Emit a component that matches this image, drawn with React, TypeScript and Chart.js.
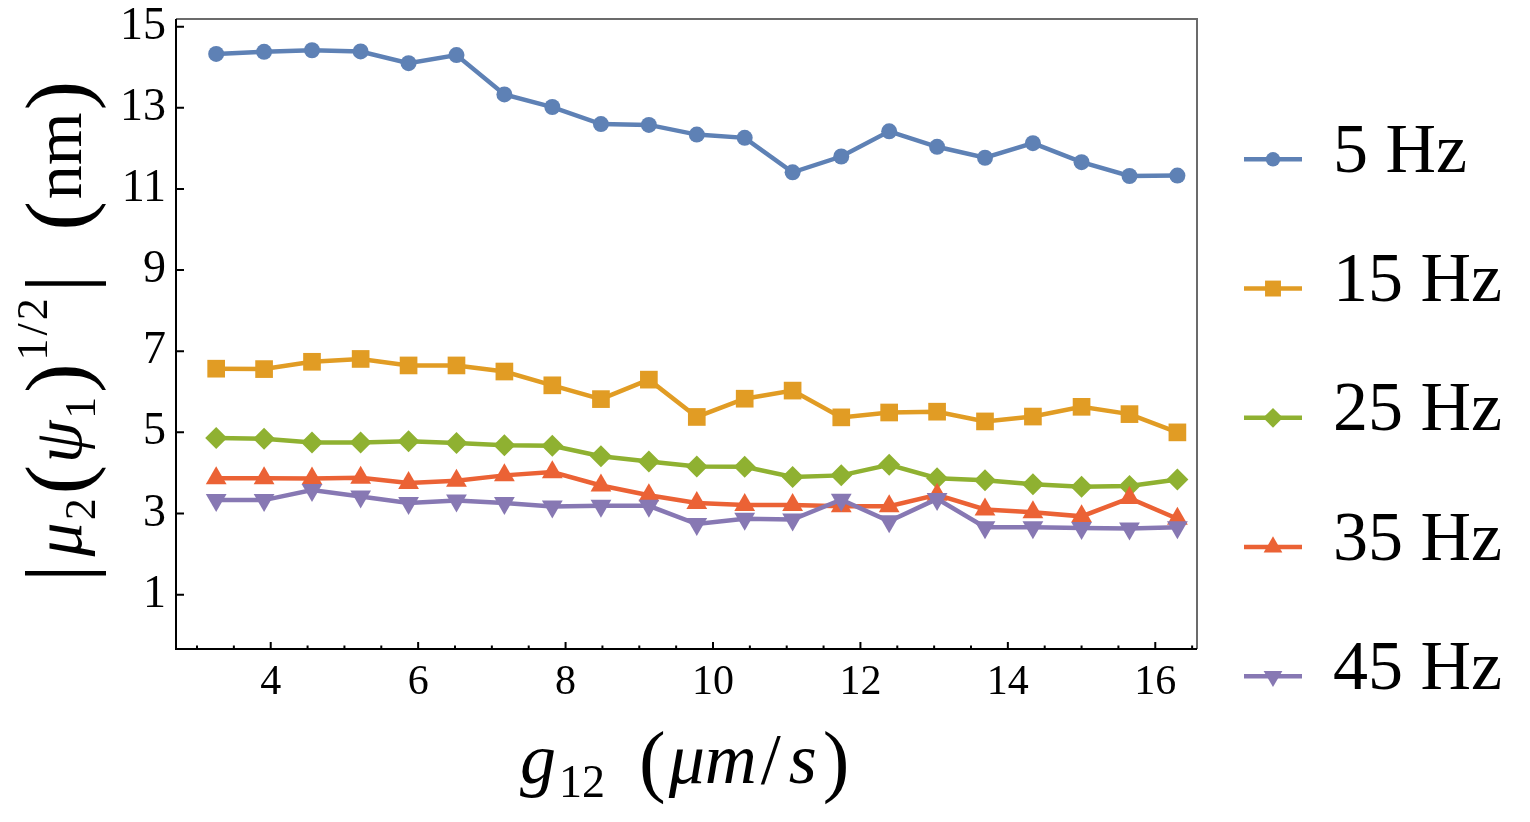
import { useEffect, useRef } from "react";
import { Chart, registerables } from "chart.js";

Chart.register(...registerables);

// x positions: g12 in um/s
const g12 = [3.26, 3.91, 4.56, 5.22, 5.87, 6.52, 7.17, 7.82, 8.48, 9.13, 9.78, 10.43, 11.08, 11.74, 12.39, 13.04, 13.69, 14.34, 15.0, 15.65, 16.3];

// |mu2(psi1)^(1/2)| in nm, one array per drive frequency
const hz5 = [14.33, 14.38, 14.42, 14.39, 14.1, 14.3, 13.33, 13.02, 12.6, 12.58, 12.34, 12.26, 11.41, 11.8, 12.42, 12.04, 11.77, 12.13, 11.66, 11.32, 11.33];
const hz15 = [6.57, 6.56, 6.74, 6.81, 6.65, 6.65, 6.5, 6.16, 5.82, 6.3, 5.38, 5.83, 6.03, 5.37, 5.49, 5.51, 5.27, 5.39, 5.63, 5.45, 5.0];
const hz25 = [4.86, 4.84, 4.75, 4.75, 4.78, 4.74, 4.68, 4.67, 4.41, 4.28, 4.16, 4.15, 3.9, 3.94, 4.2, 3.87, 3.82, 3.72, 3.66, 3.68, 3.84];
const hz35 = [3.87, 3.87, 3.86, 3.88, 3.75, 3.81, 3.94, 4.02, 3.69, 3.45, 3.26, 3.21, 3.21, 3.18, 3.18, 3.46, 3.1, 3.03, 2.93, 3.38, 2.87];
const hz45 = [3.33, 3.33, 3.58, 3.42, 3.26, 3.32, 3.26, 3.17, 3.19, 3.19, 2.74, 2.87, 2.85, 3.34, 2.81, 3.36, 2.66, 2.66, 2.64, 2.63, 2.66];

const seriesLabels = ["5 Hz", "15 Hz", "25 Hz", "35 Hz", "45 Hz"];
const seriesValues = [hz5, hz15, hz25, hz35, hz45];
const seriesColors = ["#5E81B5", "#E19C24", "#8FB131", "#EB6235", "#8778B3"];
const seriesMarkers = ["circle", "rect", "rectRot", "triangle", "triangle"];
const seriesRotation = [0, 0, 0, 0, 180];
const seriesRadius = [8, 12.5, 11, 12, 12];

const xTickLabels = [4, 6, 8, 10, 12, 14, 16];
const yTickLabels = [1, 3, 5, 7, 9, 11, 13, 15];

const SERIF = '"Liberation Serif", "DejaVu Serif", serif';

type Part = { t: string; size: number; italic?: boolean; dy?: number; gap?: number };

function drawParts(ctx: CanvasRenderingContext2D, parts: Part[], x: number, y: number) {
  let cx = x;
  for (const p of parts) {
    cx += p.gap ?? 0;
    ctx.font = `${p.italic ? "italic " : ""}${p.size}px ${SERIF}`;
    ctx.fillText(p.t, cx, y + (p.dy ?? 0));
    cx += ctx.measureText(p.t).width;
  }
}

function drawMarker(ctx: CanvasRenderingContext2D, style: string, rot: number, x: number, y: number, r: number, color: string) {
  ctx.fillStyle = color;
  ctx.beginPath();
  if (style === "circle") {
    ctx.arc(x, y, r, 0, Math.PI * 2);
  } else if (style === "rect") {
    const s = r * Math.SQRT1_2;
    ctx.rect(x - s, y - s, 2 * s, 2 * s);
  } else if (style === "rectRot") {
    ctx.moveTo(x, y - r);
    ctx.lineTo(x + r, y);
    ctx.lineTo(x, y + r);
    ctx.lineTo(x - r, y);
  } else {
    const sgn = rot === 180 ? -1 : 1;
    ctx.moveTo(x, y - sgn * r);
    ctx.lineTo(x + 0.866 * r, y + sgn * 0.5 * r);
    ctx.lineTo(x - 0.866 * r, y + sgn * 0.5 * r);
  }
  ctx.closePath();
  ctx.fill();
}

const yTitle: Part[] = [
  { t: "|", size: 88, dy: 6 },
  { t: "μ", size: 68, italic: true, gap: 8 },
  { t: "2", size: 44, dy: 14, gap: 2 },
  { t: "(", size: 88, dy: 6, gap: 4 },
  { t: "ψ", size: 68, italic: true, gap: 2 },
  { t: "1", size: 44, dy: 14, gap: 2 },
  { t: ")", size: 88, dy: 6, gap: 4 },
  { t: "1", size: 44, dy: -34, gap: 3 },
  { t: "/", size: 44, dy: -34, gap: 3 },
  { t: "2", size: 44, dy: -34, gap: 3 },
  { t: "|", size: 88, dy: 6, gap: 6 },
  { t: "(", size: 88, dy: 6, gap: 44 },
  { t: "nm", size: 68, gap: 2 },
  { t: ")", size: 88, dy: 6, gap: 2 },
];

const xTitle: Part[] = [
  { t: "g", size: 72, italic: true },
  { t: "12", size: 46, dy: 14, gap: 3 },
  { t: "(", size: 80, dy: 4, gap: 34 },
  { t: "μm", size: 72, italic: true, gap: 3 },
  { t: "/", size: 72, gap: 4 },
  { t: "s", size: 72, italic: true, gap: 8 },
  { t: ")", size: 80, dy: 4, gap: 6 },
];

const decorPlugin = {
  id: "decor",
  afterDraw(chart: any) {
    const { ctx, chartArea: a, scales } = chart;
    const xs = scales.x;
    const ys = scales.y;
    ctx.save();

    // frame: gray top/right, black left/bottom
    ctx.lineWidth = 2;
    ctx.strokeStyle = "#6b6b6b";
    ctx.beginPath();
    ctx.moveTo(a.left, a.top);
    ctx.lineTo(a.right, a.top);
    ctx.lineTo(a.right, a.bottom);
    ctx.stroke();
    ctx.strokeStyle = "#000";
    ctx.beginPath();
    ctx.moveTo(a.left, a.top);
    ctx.lineTo(a.left, a.bottom);
    ctx.lineTo(a.right, a.bottom);
    ctx.stroke();

    // inward ticks
    ctx.lineWidth = 2;
    ctx.beginPath();
    for (const v of yTickLabels) {
      const py = ys.getPixelForValue(v);
      ctx.moveTo(a.left, py);
      ctx.lineTo(a.left + 8, py);
    }
    for (let v = Math.ceil(xs.min * 2) / 2; v <= xs.max; v += 0.5) {
      const px = xs.getPixelForValue(v);
      const len = xTickLabels.includes(v) ? 7 : 3.5;
      ctx.moveTo(px, a.bottom);
      ctx.lineTo(px, a.bottom - len);
    }
    ctx.stroke();

    // axis titles
    ctx.fillStyle = "#000";
    ctx.textBaseline = "alphabetic";
    ctx.textAlign = "left";
    drawParts(ctx, xTitle, 520, 783);
    ctx.save();
    ctx.translate(81, 582);
    ctx.rotate(-Math.PI / 2);
    drawParts(ctx, yTitle, 0, 0);
    ctx.restore();

    // legend
    chart.data.datasets.forEach((ds: any, i: number) => {
      const ly = 159.3 + i * 129.25;
      ctx.strokeStyle = ds.borderColor;
      ctx.lineWidth = 4.5;
      ctx.beginPath();
      ctx.moveTo(1244, ly);
      ctx.lineTo(1302, ly);
      ctx.stroke();
      drawMarker(ctx, seriesMarkers[i], seriesRotation[i], 1273, ly, seriesRadius[i] * 0.9, ds.borderColor);
      ctx.fillStyle = "#000";
      ctx.font = `70px ${SERIF}`;
      ctx.fillText(ds.label, 1333, ly + 12.5);
    });

    ctx.restore();
  },
};

export default function App() {
  const canvasRef = useRef<HTMLCanvasElement | null>(null);

  useEffect(() => {
    document.body.style.margin = "0";
    const ctx = canvasRef.current?.getContext("2d");
    if (!ctx) return;

    const chart = new Chart(ctx, {
      type: "line",
      data: {
        datasets: seriesValues.map((vals, i) => ({
          label: seriesLabels[i],
          data: g12.map((x, j) => ({ x, y: vals[j] })),
          borderColor: seriesColors[i],
          backgroundColor: seriesColors[i],
          pointBackgroundColor: seriesColors[i],
          borderWidth: 4.5,
          pointStyle: seriesMarkers[i] as any,
          pointRotation: seriesRotation[i],
          pointRadius: seriesRadius[i],
          pointBorderWidth: 0,
          tension: 0,
          order: seriesValues.length - 1 - i,
        })),
      },
      options: {
        responsive: true,
        maintainAspectRatio: false,
        animation: false,
        layout: { padding: { top: 19, right: 333, left: 0, bottom: 0 } },
        plugins: { legend: { display: false }, tooltip: { enabled: false } },
        scales: {
          x: {
            type: "linear",
            min: 2.715,
            max: 16.566,
            grid: { display: false, drawTicks: false },
            border: { display: false },
            ticks: { font: { family: SERIF, size: 42 }, color: "#000", padding: 9, autoSkip: false, maxRotation: 0 },
            afterBuildTicks: (s: any) => {
              s.ticks = xTickLabels.map((v) => ({ value: v }));
            },
            afterFit: (s: any) => {
              s.height = 173;
              s.paddingLeft = 0;
              s.paddingRight = 0;
            },
          },
          y: {
            type: "linear",
            min: -0.34,
            max: 15.19,
            grid: { display: false, drawTicks: false },
            border: { display: false },
            ticks: { font: { family: SERIF, size: 46 }, color: "#000", padding: 10, autoSkip: false },
            afterBuildTicks: (s: any) => {
              s.ticks = yTickLabels.map((v) => ({ value: v }));
            },
            afterFit: (s: any) => {
              s.width = 176;
              s.paddingTop = 0;
              s.paddingBottom = 0;
            },
          },
        },
      },
      plugins: [decorPlugin],
    });

    return () => chart.destroy();
  }, []);

  return (
    <div style={{ position: "relative", width: 1530, height: 822 }}>
      <canvas ref={canvasRef} />
    </div>
  );
}
